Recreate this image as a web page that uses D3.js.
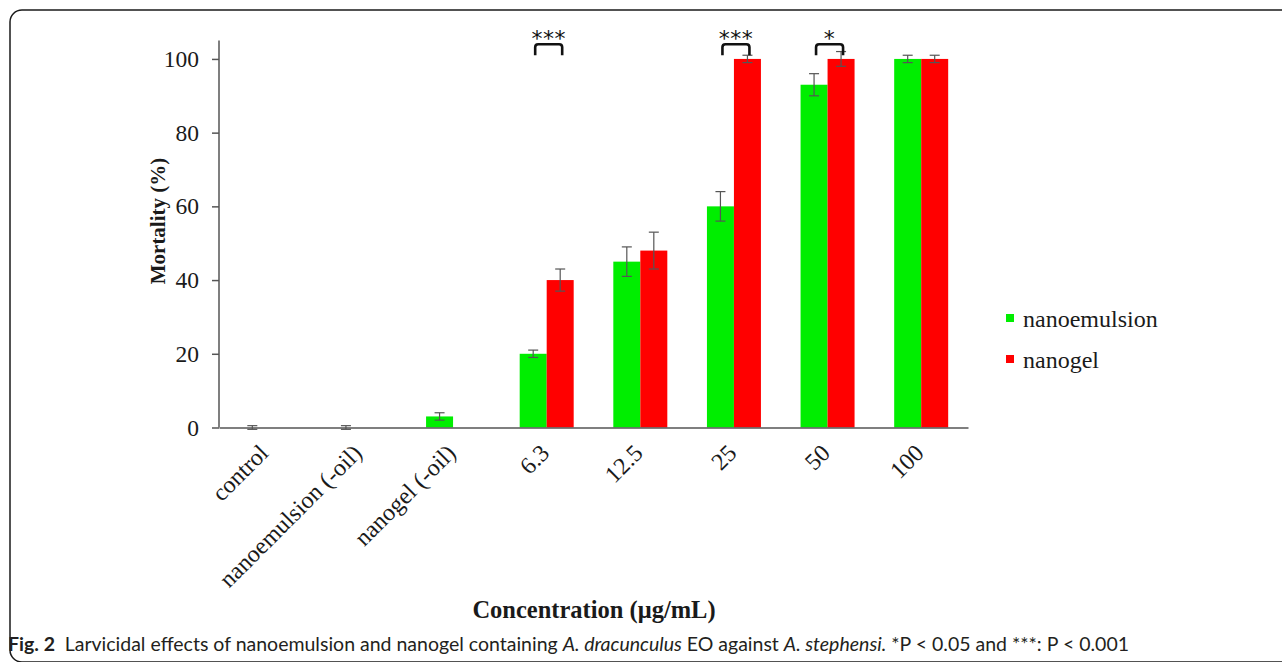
<!DOCTYPE html>
<html>
<head>
<meta charset="utf-8">
<script src="https://cdn.jsdelivr.net/npm/d3@7"></script>
<style>
  html, body { margin: 0; padding: 0; background: #fff; }
  svg { display: block; }
</style>
</head>
<body>
<svg id="chart" width="1282" height="662"></svg>
<script>
// ---- data ----
const categories = ["control", "nanoemulsion (-oil)", "nanogel (-oil)", "6.3", "12.5", "25", "50", "100"];
const seriesNames = ["nanoemulsion", "nanogel"];
const nanoemulsion = [0, 0, 3, 20, 45, 60, 93, 100];
const nanoemulsionErr = [0.5, 0.5, 1, 1, 4, 4, 3, 1];
const nanogel = [0, 0, 0, 40, 48, 100, 100, 100];
const nanogelErr = [null, null, null, 3, 5, 1, 2, 1];
const yTicks = [0, 20, 40, 60, 80, 100];
const sigCategories = ["6.3", "25", "50"];
const sigLabels = ["***", "***", "*"];
const colors = ["#00ee00", "#ff0000"];

const svg = d3.select("#chart");
const serif = "'Liberation Serif', 'Times New Roman', serif";

// frame
svg.append("rect")
  .attr("x", 10).attr("y", 10).attr("width", 1300).attr("height", 652)
  .attr("rx", 12).attr("ry", 12)
  .attr("fill", "none").attr("stroke", "#1a1a1a").attr("stroke-width", 1.5);

const x = d3.scaleBand().domain(categories).range([219, 968]).padding(0);
const barW = 27;
const y = d3.scaleLinear().domain([0, 105]).range([427.5, 40.5]);

const table = categories.map((c, i) => ({
  cat: c,
  vals: [
    { s: 0, v: nanoemulsion[i], e: nanoemulsionErr[i] },
    { s: 1, v: nanogel[i], e: nanogelErr[i] }
  ]
}));

const g = svg.append("g");

// bars
const groups = g.selectAll("g.grp").data(table).enter().append("g")
  .attr("transform", d => `translate(${x(d.cat) + x.bandwidth() / 2},0)`);

groups.selectAll("rect").data(d => d.vals).enter().append("rect")
  .attr("x", d => d.s === 0 ? -barW : 0)
  .attr("width", barW)
  .attr("y", d => y(d.v))
  .attr("height", d => y(0) - y(d.v))
  .attr("fill", d => colors[d.s]);

// error bars
const eb = groups.selectAll("g.err").data(d => d.vals.filter(v => v.e != null)).enter().append("g")
  .attr("transform", d => `translate(${d.s === 0 ? -barW / 2 : barW / 2},0)`)
  .attr("stroke", "#555").attr("stroke-width", 1.2);
eb.append("line").attr("x1", 0).attr("x2", 0).attr("y1", d => y(d.v + d.e)).attr("y2", d => y(d.v - d.e));
eb.append("line").attr("x1", -5).attr("x2", 5).attr("y1", d => y(d.v + d.e)).attr("y2", d => y(d.v + d.e));
eb.append("line").attr("x1", -5).attr("x2", 5).attr("y1", d => y(d.v - d.e)).attr("y2", d => y(d.v - d.e));

// y axis
const yAxis = g.append("g").attr("transform", "translate(219,0)")
  .call(d3.axisLeft(y).tickValues(yTicks).tickSize(7).tickPadding(13));
yAxis.select(".domain").attr("stroke", "#555").attr("stroke-width", 1.5).attr("d", `M0,${y(105)}V${y(0)}`);
yAxis.selectAll(".tick line").attr("stroke", "#555").attr("stroke-width", 1.5);
yAxis.selectAll(".tick text").attr("font-family", serif).attr("font-size", 23.5).attr("fill", "#1a1a1a");

// x axis
const xAxis = g.append("g").attr("transform", `translate(0,${y(0)})`)
  .call(d3.axisBottom(x).tickSize(0).tickPadding(0));
xAxis.select(".domain").attr("stroke", "#555").attr("stroke-width", 1.5);
xAxis.selectAll(".tick text")
  .attr("font-family", serif).attr("font-size", 24).attr("fill", "#1a1a1a")
  .attr("text-anchor", "end")
  .attr("dy", null)
  .attr("transform", "translate(4,27) rotate(-45)");

// significance brackets
const sig = g.selectAll("g.sig").data(sigCategories.map((c, i) => ({ cat: c, label: sigLabels[i] }))).enter().append("g")
  .attr("transform", d => `translate(${x(d.cat) + x.bandwidth() / 2},0)`);
sig.append("path")
  .attr("d", d => {
    const x0 = -barW / 2 + 2, x1 = barW / 2 + 2, yt = y(104), yb = y(101), r = 3;
    return `M${x0},${yb}V${yt + r}Q${x0},${yt} ${x0 + r},${yt}H${x1 - r}Q${x1},${yt} ${x1},${yt + r}V${yb}`;
  })
  .attr("fill", "none").attr("stroke", "#111").attr("stroke-width", 2.6);
sig.append("text")
  .attr("x", 2).attr("y", y(104) + 2)
  .attr("text-anchor", "middle")
  .attr("font-family", "'DejaVu Sans', sans-serif").attr("font-size", 22)
  .attr("letter-spacing", 0.5)
  .attr("fill", "#111")
  .text(d => d.label);

// axis titles
svg.append("text")
  .attr("transform", "translate(165,221) rotate(-90)")
  .attr("text-anchor", "middle")
  .attr("font-family", serif).attr("font-weight", "bold").attr("font-size", 21).attr("fill", "#1a1a1a")
  .text("Mortality (%)");
svg.append("text")
  .attr("x", 594).attr("y", 618)
  .attr("text-anchor", "middle")
  .attr("font-family", serif).attr("font-weight", "bold").attr("font-size", 24.5).attr("fill", "#1a1a1a")
  .text("Concentration (μg/mL)");

// legend
const leg = svg.append("g").selectAll("g").data(seriesNames).enter().append("g")
  .attr("transform", (d, i) => `translate(1006,${314 + i * 41})`);
leg.append("rect").attr("width", 8).attr("height", 8).attr("fill", (d, i) => colors[i]);
leg.append("text").attr("x", 17).attr("y", 13)
  .attr("font-family", serif).attr("font-size", 24).attr("fill", "#1a1a1a")
  .text(d => d);

// caption
const cap = svg.append("text").attr("x", 8).attr("y", 651)
  .attr("font-family", "Lato, 'Open Sans', sans-serif").attr("font-size", 19.5).attr("fill", "#231f20");
cap.append("tspan").attr("font-weight", "bold").text("Fig. 2");
cap.append("tspan").text("\u2002Larvicidal effects of nanoemulsion and nanogel containing ");
cap.append("tspan").attr("font-style", "italic").text("A. dracunculus");
cap.append("tspan").text(" EO against ");
cap.append("tspan").attr("font-style", "italic").text("A. stephensi.");
cap.append("tspan").text(" *P < 0.05 and ***: P < 0.001");
</script>
</body>
</html>
